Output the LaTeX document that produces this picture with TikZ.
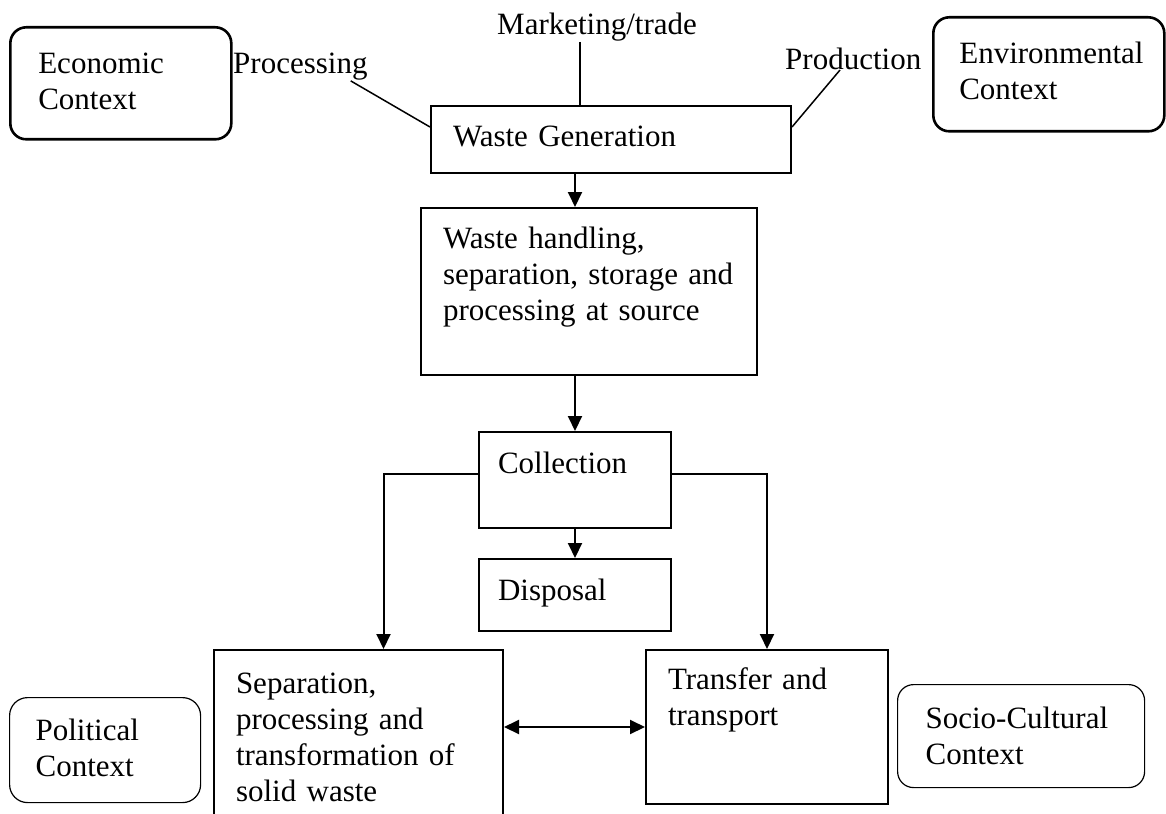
\documentclass[tikz,border=0pt]{standalone}
\usepackage{fontspec}
\setmainfont{Liberation Serif}
\usepackage{tikz}
\usetikzlibrary{arrows.meta, positioning}
\hyphenpenalty=10000
\exhyphenpenalty=10000
\newcommand{\bodyfont}{\fontsize{31}{36}\selectfont}
\tikzset{
    flowbox/.style={rectangle, draw=black, line width=2pt, anchor=north west, align=left, inner sep=0pt, font=\bodyfont},
    ctxbox/.style={flowbox, rounded corners=16pt},
    indent/.style={execute at begin node={\leftskip=#1\relax}},
    lbl/.style={inner sep=0pt, anchor=base west, font=\bodyfont},
    arrow/.style={-{Triangle[length=15pt, width=14pt]}, line width=2pt},
    link/.style={line width=1.5pt},
}

\begin{document}
\begin{tikzpicture}[x=1pt, y=-1pt]
\useasboundingbox (0,0) rectangle (1166,813);

% Context boxes
\node[ctxbox, line width=2.6pt, text width=221pt, text height=46pt, text depth=66pt, indent=28pt] (econ-ctx) at (9,26) {Economic\\Context};
\node[ctxbox, line width=2.6pt, text width=231pt, text height=46pt, text depth=68pt, indent=26pt] (env-ctx) at (932,16) {Environmental\\Context};
\node[ctxbox, line width=1.2pt, rounded corners=18pt, text width=191pt, text height=43pt, text depth=62pt, indent=26pt] (pol-ctx) at (9,697) {Political\\Context};
\node[ctxbox, line width=1.2pt, text width=247pt, text height=44pt, text depth=59pt, indent=28pt] (soc-ctx) at (897,684) {Socio-Cultural\\Context};

% Source labels
\node[lbl] (proc-lbl) at (233,74) {Processing};
\node[lbl] (mkt-lbl) at (497,35) {Marketing/trade};
\node[lbl] (prod-lbl) at (785,70) {Production};

% Main flow
\node[flowbox, text width=360pt, text height=41pt, text depth=26pt, indent=22pt] (waste-gen) at (430,105) {Waste Generation};
\node[flowbox, text width=336pt, text height=40pt, text depth=127pt, indent=22pt] (waste-hand) at (420,207) {Waste handling,\\separation, storage and\\processing at source};
\node[flowbox, text width=192pt, text height=41pt, text depth=55pt, indent=19pt] (collect) at (478,431) {Collection};
\node[flowbox, anchor=north, below=29pt of collect, text width=192pt, text height=41pt, text depth=31pt, indent=19pt] (dispose) {Disposal};
\node[flowbox, text width=289pt, text height=43pt, text depth=138pt, indent=22pt] (sep-proc) at (213,649) {Separation,\\processing and\\transformation of\\solid waste};
\node[flowbox, text width=242pt, text height=39pt, text depth=115pt, indent=22pt] (transfer) at (645,649) {Transfer and\\transport};

% Source lines
\draw[link] ([xshift=-17pt]proc-lbl.south east) -- ([yshift=-22pt]waste-gen.north west);
\draw[link] ([xshift=-17pt]mkt-lbl.south) -- ([xshift=-17pt]mkt-lbl.south |- waste-gen.north);
\draw[link] ([xshift=55pt]prod-lbl.base west) -- ([yshift=-22pt]waste-gen.north east);

% Arrows
\draw[arrow] (waste-gen.south -| collect.north) -- (waste-hand.north -| collect.north);
\draw[arrow] (waste-hand.south -| collect.north) -- (collect.north);
\draw[arrow] (collect) -- (dispose);
\draw[arrow] ([yshift=6pt]collect.west) -| ([xshift=25pt]sep-proc.north);
\draw[arrow] ([yshift=6pt]collect.east) -| (transfer.north);
\draw[arrow, {Triangle[length=15pt, width=14pt]}-{Triangle[length=15pt, width=14pt]}] (transfer.west -| sep-proc.east) -- (transfer.west);

\end{tikzpicture}
\end{document}
